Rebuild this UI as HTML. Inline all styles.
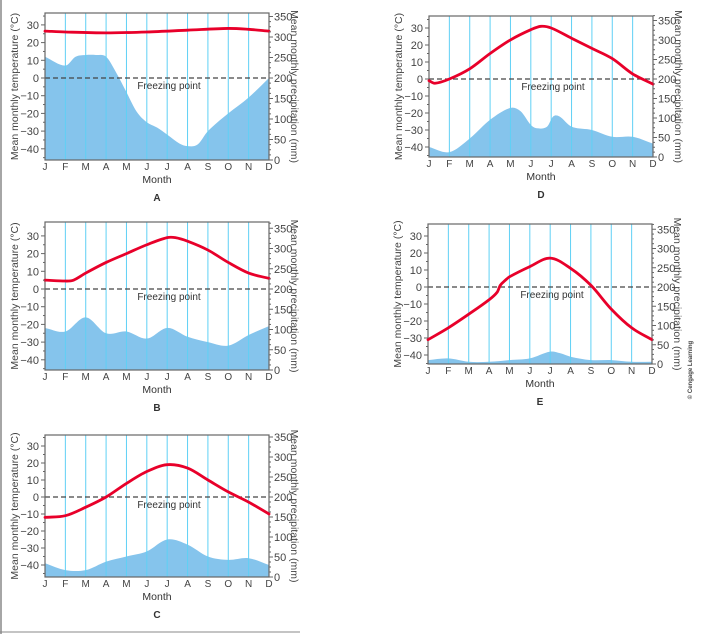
<!DOCTYPE html><html><head><meta charset="utf-8"><style>
body{margin:0;background:#fff;width:712px;height:634px;overflow:hidden}
svg{display:block;font-family:"Liberation Sans",sans-serif}
</style></head><body>
<svg id="s" width="712" height="634" viewBox="0 0 712 634"></svg>
<script>
const P=[
{ox:0,z:78,k:1.77,top:13,bot:160,L:'A',
 t:[[0,26.5],[1,26],[3,25.5],[5,26],[7,27],[9,28],[10,27.5],[11,26.5]],
 p:[[0,12],[1,7],[1.5,12],[2,13],[2.5,13],[3,12],[3.5,3],[4,-8],[4.5,-19],[5,-25],[5.5,-28],[6,-32],[6.6,-37],[7,-38.5],[7.5,-37.5],[8,-30],[9,-20],[10,-11],[11,0]]},
{ox:0,z:289,k:1.77,top:222,bot:370,L:'B',
 t:[[0,5],[1,4.5],[1.4,5],[2,9],[3,15],[4,20],[5,25],[6,29],[6.4,29],[7,27],[8,22],[9,15],[10,9],[11,6]],
 p:[[0,-22],[1,-24],[2,-16],[3,-25],[4,-24],[5,-28],[6,-22],[7,-27],[8,-30],[9,-32],[10,-26],[11,-21]]},
{ox:0,z:497,k:1.7,top:435,bot:577,L:'C',
 t:[[0,-12],[1,-11],[2,-6],[3,0],[4,8],[5,15],[6,19],[7,17],[8,10],[9,3],[10,-3],[11,-10]],
 p:[[0,-39],[1,-43],[2,-43],[3,-38],[4,-35],[5,-32],[6,-25],[7,-28],[8,-35],[9,-37],[10,-36],[11,-40]]},
{ox:384,z:79,k:1.7,top:16,bot:157,L:'D',
 t:[[0,-1],[0.3,-2.5],[1,0],[2,6],[3,15],[4,23],[5,29],[5.5,31],[6,30],[7,24],[8,18],[9,12],[10,3],[11,-3]],
 p:[[0,-40],[1,-43],[2,-35],[3,-24],[4,-17],[4.5,-19],[5,-27],[5.3,-29],[5.8,-28],[6.1,-22],[6.4,-22],[7,-28],[8,-30],[9,-34],[10,-34],[11,-38]]},
{ox:383,z:287,k:1.7,top:224,bot:364,L:'E',
 t:[[0,-31],[1,-24],[2,-16],[3,-7.5],[3.4,-3],[3.55,1],[3.8,4],[4,6],[5,12],[6,17],[7,11],[8,1],[9,-13],[10,-24],[11,-31]],
 p:[[0,-43],[1,-42],[2,-44],[3,-44],[4,-43],[5,-42],[6,-38],[6.5,-39],[7,-41],[8,-43],[9,-43],[10,-44],[11,-44]]}
];
const M='JFMAMJJASOND';
function cr(pts){const n=pts.length,m=[];
 for(let i=0;i<n;i++){const a=pts[Math.max(0,i-1)],b=pts[Math.min(n-1,i+1)];m.push((b[1]-a[1])/(b[0]-a[0]));}
 let d='M'+pts[0][0]+','+pts[0][1];
 for(let i=0;i<n-1;i++){const p1=pts[i],p2=pts[i+1],dx=(p2[0]-p1[0])/3;
 d+=' C'+(p1[0]+dx)+','+(p1[1]+m[i]*dx)+' '+(p2[0]-dx)+','+(p2[1]-m[i+1]*dx)+' '+p2[0]+','+p2[1];}
 return d;}
let h='<line x1="1" y1="0" x2="1" y2="634" stroke="#888" stroke-width="1.5"/><line x1="0" y1="632" x2="300" y2="632" stroke="#888"/>';
for(const c of P){
 const x0=45+c.ox,x1=269+c.ox,sp=(x1-x0)/11;
 const X=m=>x0+m*sp,Y=t=>c.z-t*c.k;
 const pp=c.p.map(a=>[X(a[0]),Y(a[1])]);
 h+=`<path d="${cr(pp)} L${x1},${c.bot} L${x0},${c.bot}Z" fill="#85c4ec"/>`;
 for(let i=1;i<11;i++)h+=`<line x1="${X(i)}" y1="${c.top}" x2="${X(i)}" y2="${c.bot}" stroke="#5fd0f5" stroke-width="1"/>`;
 h+=`<line x1="${x0}" y1="${c.z}" x2="${x1}" y2="${c.z}" stroke="#444" stroke-dasharray="5,3" stroke-width="1.2"/>`;
 h+=`<rect x="${x0}" y="${c.top}" width="${x1-x0}" height="${c.bot-c.top}" fill="none" stroke="#666" stroke-width="1.2"/>`;
 h+=`<text x="${(x0+x1)/2+12}" y="${c.z+11}" font-size="10" fill="#333" text-anchor="middle">Freezing point</text>`;
 const tp=c.t.map(a=>[X(a[0]),Y(a[1])]);
 h+=`<path d="${cr(tp)}" fill="none" stroke="#e8002a" stroke-width="2.8" stroke-linecap="round"/>`;
 for(let t=-45;t<=35;t+=5){if(Y(t)<c.top-1||Y(t)>c.bot+1)continue;h+=`<line x1="${x0}" y1="${Y(t)}" x2="${x0-(t%10?2:4)}" y2="${Y(t)}" stroke="#666"/>`;}
 for(let t=-40;t<=30;t+=10)h+=`<text x="${x0-6}" y="${Y(t)+4}" font-size="11" fill="#444" text-anchor="end">${t<0?'−'+(-t):t}</text>`;
 const R=p=>c.bot-p*(c.bot-c.z)/200;
 for(let p=0;p<=375;p+=12.5){if(R(p)<c.top-1)continue;h+=`<line x1="${x1}" y1="${R(p)}" x2="${x1+(p%50?2:4)}" y2="${R(p)}" stroke="#666"/>`;}
 for(let p=0;p<=350;p+=50)h+=`<text x="${x1+5}" y="${R(p)+4}" font-size="11" fill="#444">${p}</text>`;
 for(let i=0;i<12;i++)h+=`<text x="${X(i)}" y="${c.bot+10}" font-size="10" fill="#444" text-anchor="middle">${M[i]}</text>`;
 h+=`<text x="${(x0+x1)/2}" y="${c.bot+23}" font-size="10.5" fill="#333" text-anchor="middle">Month</text>`;
 h+=`<text x="${(x0+x1)/2}" y="${c.bot+41}" font-size="10" font-weight="bold" fill="#333" text-anchor="middle">${c.L}</text>`;
 const my=(c.top+c.bot)/2;
 h+=`<text transform="translate(${c.ox+18},${my}) rotate(-90)" font-size="10.5" fill="#444" text-anchor="middle">Mean monthly temperature (°C)</text>`;
 h+=`<text transform="translate(${x1+22},${my}) rotate(90)" font-size="10.5" fill="#444" text-anchor="middle">Mean monthly precipitation (mm)</text>`;
}
h+=`<text transform="translate(692,370) rotate(-90)" font-size="6" font-weight="bold" fill="#444" text-anchor="middle">© Cengage Learning</text>`;
document.getElementById('s').innerHTML=h;
</script></body></html>
